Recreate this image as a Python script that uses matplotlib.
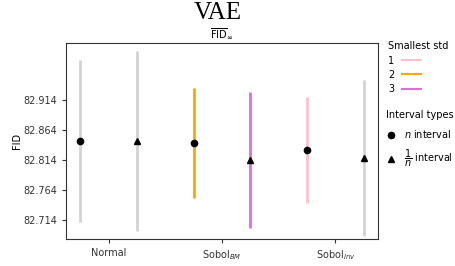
import matplotlib
matplotlib.use("Agg")
import matplotlib.pyplot as plt
from matplotlib.lines import Line2D

# Data
groups = ["Normal", r"Sobol$_{BM}$", r"Sobol$_{Inv}$"]
n_center = [82.846, 82.842, 82.8305]
n_half = [0.1355, 0.092, 0.0887]
inv_center = [82.8457, 82.8135, 82.8175]
inv_half = [0.150, 0.1136, 0.1298]
n_colors = ["lightgray", "#FFA500", "pink"]
inv_colors = ["lightgray", "orchid", "lightgray"]
yticks = [82.714, 82.764, 82.814, 82.864, 82.914]
std_labels = ["1", "2", "3"]
std_colors = ["pink", "#FFA500", "orchid"]

fig = plt.figure(figsize=(4.56, 2.66), dpi=100)
ax = fig.add_axes([0.1447, 0.1015, 0.829 - 0.1447, 0.8395 - 0.1015])

off = 0.25
for i in range(len(groups)):
    ax.errorbar(i - off, n_center[i], yerr=n_half[i], fmt="o", color="black",
                ecolor=n_colors[i], elinewidth=2.0, markersize=4.5, capsize=0, zorder=3)
    ax.errorbar(i + off, inv_center[i], yerr=inv_half[i], fmt="^", color="black",
                ecolor=inv_colors[i], elinewidth=2.0, markersize=4.5, capsize=0, zorder=3)

ax.set_xticks(range(len(groups)))
ax.set_xticklabels(groups, fontsize=7)
ax.set_yticks(yticks)
ax.set_yticklabels([f"{v:.3f}" for v in yticks], fontsize=7)
ax.set_xlim(-0.375, 2.375)
ax.set_ylim(82.682, 83.010)
ax.set_ylabel("FID", fontsize=7, labelpad=1)
ax.set_title(r"$\overline{\mathrm{FID}}_{\infty}$", fontsize=7, pad=3)
ax.tick_params(length=3, width=0.8, colors="#333333")
for s in ax.spines.values():
    s.set_color("#333333")

fig.suptitle("VAE", fontsize=18, x=0.477, y=0.992,
             family=["Liberation Serif", "DejaVu Serif"])

h1 = [Line2D([0], [0], color=c, lw=1.5) for c in std_colors]
leg1 = fig.legend(h1, std_labels, title="Smallest std", loc="upper left",
                  bbox_to_anchor=(0.842, 0.86), frameon=False, fontsize=7,
                  title_fontsize=7, alignment="left", handlelength=2.0,
                  labelspacing=0.45, borderaxespad=0, markerfirst=False)
h2 = [Line2D([0], [0], marker="o", color="black", ls="none", markersize=4.5),
      Line2D([0], [0], marker="^", color="black", ls="none", markersize=4.5)]
leg2 = fig.legend(h2, [r"$n$ interval", r"$\dfrac{1}{n}$ interval"], title="Interval types",
                  loc="upper left", bbox_to_anchor=(0.838, 0.60), frameon=False,
                  fontsize=7, title_fontsize=7, alignment="left", handlelength=1.0,
                  labelspacing=0.8, borderaxespad=0)

fig.savefig("out.png", dpi=100)
